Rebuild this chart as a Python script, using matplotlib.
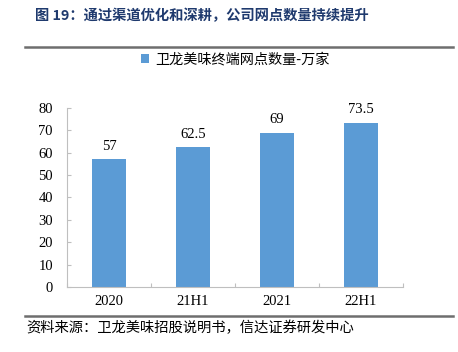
import matplotlib
matplotlib.use("Agg")
import matplotlib.pyplot as plt
from matplotlib.lines import Line2D

plt.rcParams['font.family'] = ['Liberation Serif', 'Noto Sans CJK SC']

periods = ["2020", "21H1", "2021", "22H1"]
outlets = [57, 62.5, 69, 73.5]
value_labels = ["57", "62.5", "69", "73.5"]
yticks = [0, 10, 20, 30, 40, 50, 60, 70, 80]

fig = plt.figure(figsize=(4.58, 3.52), dpi=100)
ax = fig.add_axes([0.146, 0.185, 0.734, 0.508])

x = range(len(periods))
bars = ax.bar(x, outlets, width=0.4, color="#5B9BD5", label="卫龙美味终端网点数量-万家")
for xi, v, t in zip(x, outlets, value_labels):
    ax.annotate(t, (xi, v), xytext=(0, 4.5), textcoords="offset points",
                ha="center", va="bottom", fontsize=10.5)

ax.set_xlim(-0.5, len(periods) - 0.5)
ax.set_ylim(0, 80)
ax.set_yticks(yticks)
ax.set_xticks([i - 0.5 for i in range(len(periods) + 1)], minor=False)
ax.set_xticklabels([])
ax.set_xticks(list(x), minor=True)
ax.set_xticklabels(periods, minor=True)
ax.tick_params(axis="x", which="minor", length=0, labelsize=10.5, pad=6)
ax.tick_params(axis="x", which="major", direction="in", length=3, color="#BFBFBF")
ax.tick_params(axis="y", direction="in", length=3, color="#BFBFBF", labelsize=10.5, pad=10)
for s in ["top", "right"]:
    ax.spines[s].set_visible(False)
for s in ["left", "bottom"]:
    ax.spines[s].set_color("#BFBFBF")

leg = ax.legend(loc="lower center", bbox_to_anchor=(0.5, 1.16), frameon=False,
                handlelength=0.6, handleheight=0.6, handletextpad=0.4,
                prop={'family': ['Noto Sans CJK SC'], 'size': 10.2})

fig.text(0.076, 0.975, "图 19：通过渠道优化和深耕，公司网点数量持续提升", fontsize=10.3,
         fontweight="bold", color="#1F3A6E", va="top",
         family=['Noto Sans CJK SC'])
fig.add_artist(Line2D([0.055, 0.989], [0.866, 0.866], color="#6E6E6E", lw=1.8))
fig.add_artist(Line2D([0.055, 0.989], [0.102, 0.102], color="#6E6E6E", lw=1.8))
fig.text(0.057, 0.068, "资料来源：卫龙美味招股说明书，信达证券研发中心", fontsize=10.3,
         va="center", family=['Noto Sans CJK SC'])

fig.savefig("out.png", dpi=100)
